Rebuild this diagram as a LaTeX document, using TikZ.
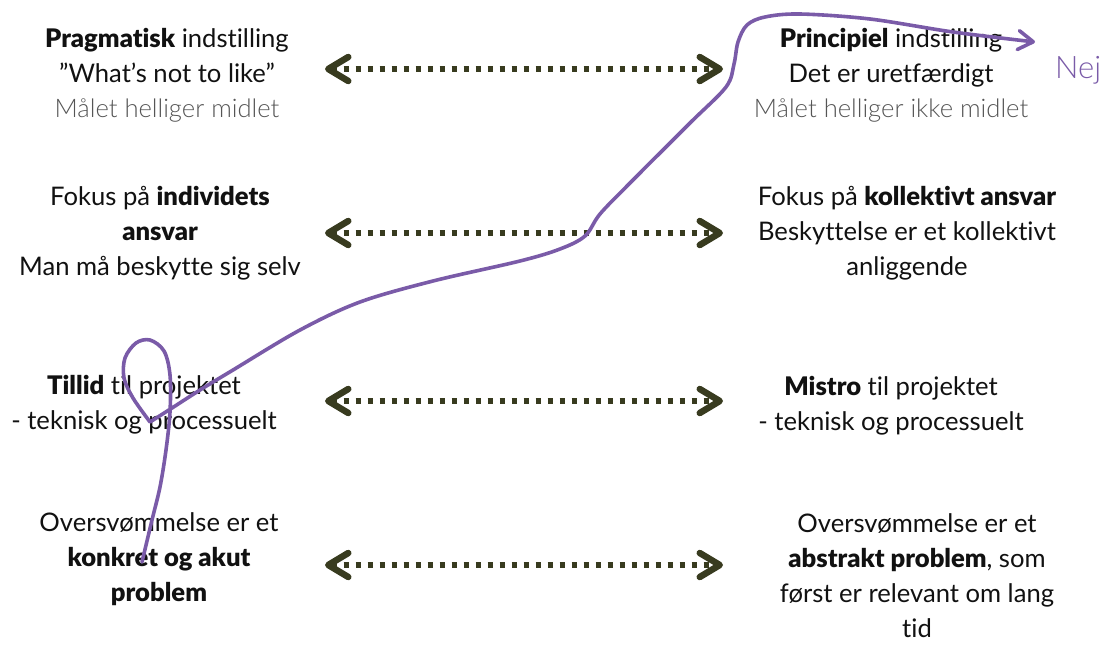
\documentclass[tikz,border=0pt]{standalone}
\usepackage{fontspec}
\usetikzlibrary{arrows.meta}
\IfFontExistsTF{Lato Black}{\setmainfont{Lato}[BoldFont={Lato Black},RawFeature={-liga}]}{\setmainfont{Lato}[RawFeature={-liga}]}
\IfFontExistsTF{Lato Light}{\newfontfamily\lightfont{Lato Light}[RawFeature={-liga}]}{\newfontfamily\lightfont{Lato}[RawFeature={-liga}]}
\definecolor{olive}{HTML}{383B1F}
\definecolor{purp}{HTML}{7A5BA8}
\definecolor{greytxt}{HTML}{555555}
\definecolor{txtblack}{HTML}{111111}
\newcommand\blk[1]{\begin{tabular}[t]{@{}c@{}}#1\end{tabular}}
\newcommand\lgt[1]{{\lightfont\color{greytxt}#1}}
\tikzset{
  txt/.style={font=\fontsize{25.6}{35.3}\selectfont, text=txtblack, inner sep=0pt, anchor=base},
  dotarrow/.style={draw=olive, line width=5.5pt, dash pattern=on 5pt off 7pt,
    {Straight Barb[length=20pt,width=24pt,line width=6.5pt,round]}-{Straight Barb[length=20pt,width=24pt,line width=6.5pt,round]}},
  pline/.style={draw=purp, line width=3.6pt, line cap=round, line join=round,
    -{Straight Barb[length=15pt,width=19pt,line width=3.6pt,round]}}
}
\begin{document}
\begin{tikzpicture}[x=1pt,y=-1pt]
\useasboundingbox (0,0) rectangle (1102,646);
% left column
\node[txt] (l1) at (167,47) {\blk{\textbf{Pragmatisk} indstilling\\ ”What’s not to like”\\ \lgt{Målet helliger midlet}}};
\node[txt] (l2) at (160,205) {\blk{Fokus på \textbf{individets}\\ \textbf{ansvar}\\ Man må beskytte sig selv}};
\node[txt] (l3) at (144,394) {\blk{\textbf{Tillid} til projektet\\ - teknisk og processuelt}};
\node[txt] (l4) at (159,531) {\blk{Oversvømmelse er et\\ \textbf{konkret og akut}\\ \textbf{problem}}};
% right column
\node[txt] (r1) at (891,47) {\blk{\textbf{Principiel} indstilling\\ Det er uretfærdigt\\ \lgt{Målet helliger ikke midlet}}};
\node[txt] (r2) at (907,205) {\blk{Fokus på \textbf{kollektivt ansvar}\\ Beskyttelse er et kollektivt\\ anliggende}};
\node[txt] (r3) at (891,395) {\blk{\textbf{Mistro} til projektet\\ - teknisk og processuelt}};
\node[txt] (r4) at (917,532) {\blk{Oversvømmelse er et\\ \textbf{abstrakt problem}, som\\ først er relevant om lang\\ tid}};
% arrows
\coordinate (a1l) at (325,69);  \coordinate (a1r) at (723,69);
\coordinate (a2l) at (325,233); \coordinate (a2r) at (723,233);
\coordinate (a3l) at (325,401); \coordinate (a3r) at (723,401);
\coordinate (a4l) at (325,565); \coordinate (a4r) at (723,565);
\draw[dotarrow] (a1l) -- (a1r);
\draw[dotarrow] (a2l) -- (a2r);
\draw[dotarrow] (a3l) -- (a3r);
\draw[dotarrow] (a4l) -- (a4r);
% Nej
\node[font=\fontsize{31}{36}\selectfont\lightfont, text=purp, inner sep=0pt, anchor=base west] (nej) at (1055,78) {Nej};
% purple hand-drawn curve
\coordinate (cs) at (142,562);
\coordinate (ck) at (150,422);
\coordinate (ce) at (1035,42);
\draw[pline] plot[smooth,tension=0.55] coordinates {(cs) (152,520) (160,487) (166,450) (170,412) (170,375) (164,351) (150,340) (136,343) (125,358) (124,378) (133,398) (ck)}
 -- plot[smooth,tension=0.55] coordinates {(ck) (172,408) (200,390) (233,370) (300,330) (360,302) (433,281) (520,261) (560,249) (585,236) (600,214) (630,183) (690,123) (726,87) (734,64) (738,42) (747,25) (765,17) (800,14) (870,19) (953,32) (ce)};
\end{tikzpicture}
\end{document}
